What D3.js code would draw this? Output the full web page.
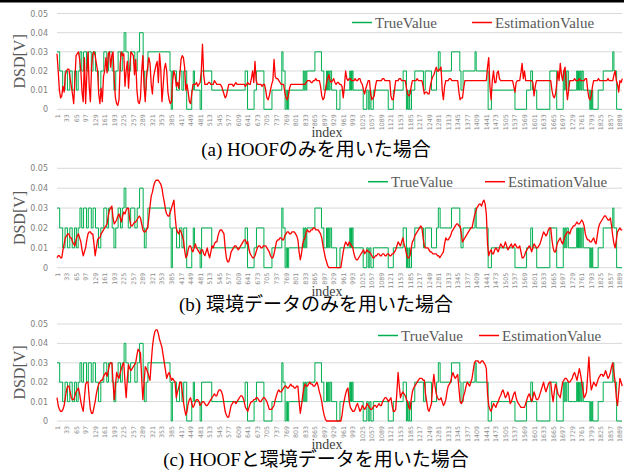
<!DOCTYPE html>
<html>
<head>
<meta charset="utf-8">
<script src="https://cdnjs.cloudflare.com/ajax/libs/d3/7.8.5/d3.min.js"></script>
<style>
  body { margin: 0; background: #fff; }
</style>
</head>
<body>
<svg id="chart" width="624" height="472"></svg>
<script>
"use strict";

/*
 * Data (DSD values in mV, i.e. 0.001 V)
 */
// true value, as runs: [first index, value]
var trueRuns = [
  [1,30],[10,20],[20,10],[28,20],[36,10],[44,20],[52,10],[60,20],[66,10],[72,20],
  [78,30],[84,20],[90,30],[100,20],[106,30],[116,20],[122,30],[130,20],[140,10],[148,20],
  [158,30],[168,20],[174,30],[186,20],[192,10],[198,20],[206,30],[214,20],[220,30],[226,40],
  [232,30],[240,20],[248,30],[262,20],[270,30],[278,40],[290,20],[294,10],[300,20],[306,30],
  [380,20],[384,0],[388,20],[402,10],[412,20],[420,10],[426,20],[436,0],[453,10],[458,20],
  [462,10],[481,0],[486,20],[520,10],[632,20],[640,0],[662,10],[670,20],[695,0],[722,10],
  [755,30],[759,20],[766,0],[770,10],[774,0],[778,10],[827,20],[830,10],[833,20],[836,10],
  [839,20],[866,30],[888,20],[896,10],[905,20],[908,10],[911,20],[914,10],[917,20],[922,10],
  [939,0],[950,10],[983,20],[985,10],[987,20],[989,10],[991,20],[994,10],[1028,0],[1040,10],
  [1045,0],[1050,10],[1054,0],[1062,10],[1112,0],[1129,10],[1162,20],[1173,0],[1176,10],[1178,0],
  [1182,10],[1184,0],[1190,10],[1201,20],[1230,10],[1236,20],[1257,10],[1274,20],[1280,30],[1286,20],
  [1324,30],[1352,20],[1356,10],[1363,20],[1403,30],[1407,20],[1447,0],[1458,10],[1537,0],[1576,10],
  [1590,20],[1596,10],[1610,0],[1654,20],[1677,0],[1699,20],[1702,10],[1705,20],[1708,10],[1711,20],
  [1716,10],[1744,20],[1747,10],[1750,20],[1753,10],[1756,20],[1759,10],[1762,20],[1766,10],[1788,0],
  [1791,10],[1793,0],[1796,10],[1798,0],[1816,10],[1833,20],[1865,30],[1869,20],[1878,0]
];
var lastIndex = 1896;

// estimation values, read every 4th index (1, 5, 9, ...), one row = 80 indices
var estStep = 4;
var estHOOF = [
  29,20,10,6,7,12,9,18,20,21,21,16,12,8,3,15,28,29,30,26,
  20,9,4,27,3,18,30,12,4,22,29,30,28,24,20,8,3,11,4,17,
  20,27,19,29,30,22,28,30,15,6,3,2,5,24,30,28,29,12,20,25,
  11,22,30,29,28,18,26,10,4,3,6,20,28,12,4,16,22,27,24,13,
  8,17,20,23,25,14,29,21,4,12,21,24,20,9,5,3,4,15,20,18,
  12,14,11,18,26,28,27,22,10,13,9,4,3,8,13,13,13,14,12,13,
  14,20,34,18,13,13,13,14,14,13,13,13,15,14,13,13,13,13,12,10,
  8,6,7,10,13,13,13,13,12,13,14,13,13,13,13,13,13,13,12,13,
  14,13,13,16,20,14,25,15,13,13,13,13,12,13,13,10,6,5,7,10,
  13,15,26,17,16,16,15,14,13,13,13,9,6,5,7,11,13,13,13,13,
  13,13,13,13,13,13,13,13,13,14,15,15,15,14,14,15,15,16,15,15,
  15,12,7,5,6,10,14,16,18,15,14,15,16,14,13,14,14,13,13,12,
  6,12,20,16,15,16,16,15,15,15,16,15,15,16,16,14,13,10,8,11,
  13,15,15,8,5,6,7,12,15,15,15,15,15,16,16,15,15,15,15,15,
  7,5,5,10,15,15,15,16,16,15,15,15,15,11,8,7,8,12,15,15,
  15,15,16,15,15,15,15,12,8,9,9,8,8,12,15,17,18,20,22,20,
  20,21,22,10,5,12,15,15,15,16,16,15,15,15,15,15,15,9,5,6,
  6,11,15,15,15,15,15,15,15,15,15,15,15,15,15,15,15,15,15,15,
  15,22,27,12,5,15,20,14,14,19,20,16,15,15,15,15,15,15,15,15,
  15,15,15,12,9,14,15,15,15,19,24,16,20,15,15,15,15,15,15,14,
  7,12,15,15,15,15,15,15,15,15,15,15,15,15,15,10,7,6,8,13,
  20,15,24,18,15,20,22,12,5,10,15,15,15,15,16,15,15,15,16,15,
  15,15,15,16,16,10,6,5,7,12,15,15,15,15,16,15,15,15,15,15,
  15,15,16,15,15,15,15,18,20,15,13,9,15,14,16
];
var estEnv = [
  5,6,6,5,5,9,12,15,16,17,17,15,15,13,12,11,14,16,17,15,
  13,9,6,8,10,14,17,18,18,17,17,12,6,10,14,15,15,17,18,19,
  20,21,22,26,29,30,31,25,22,23,24,26,27,25,23,26,28,27,29,30,
  30,24,21,21,22,23,23,24,25,26,25,22,19,18,18,19,20,25,31,36,
  38,41,43,44,44,44,43,42,40,36,33,29,27,26,26,28,30,32,34,26,
  20,18,17,19,18,16,14,9,5,6,9,11,11,9,8,10,12,10,9,8,
  7,9,9,7,6,8,10,7,5,8,11,10,12,13,13,16,18,19,19,18,
  17,10,5,3,3,5,8,9,10,11,11,10,9,10,11,12,13,14,14,12,
  13,9,7,6,5,5,6,8,10,11,11,10,10,11,11,11,10,9,8,6,
  5,5,7,10,13,14,14,15,15,14,14,16,17,18,18,17,17,18,18,18,
  17,16,14,8,4,7,12,14,15,18,19,18,18,19,19,20,20,19,19,19,
  18,17,15,11,8,5,3,1,0,0,0,0,0,0,0,0,0,0,0,4,
  8,11,13,12,11,13,12,11,10,7,5,4,4,5,6,7,8,9,7,8,
  9,8,8,7,6,5,5,6,6,7,7,6,6,7,7,6,6,7,7,6,
  6,7,7,8,9,11,13,12,11,13,15,12,10,7,5,5,6,10,13,14,
  16,17,18,19,20,21,20,15,11,10,10,10,9,8,8,7,7,7,7,6,
  6,5,6,7,8,12,15,14,14,15,16,18,19,20,21,22,22,21,21,17,
  13,14,15,16,17,18,19,20,20,23,26,28,30,31,32,32,31,33,34,32,
  27,12,6,8,9,7,7,9,10,9,8,10,12,11,10,11,13,11,9,10,
  11,12,10,11,12,11,10,10,11,8,5,5,6,8,9,10,11,10,8,10,
  12,11,10,10,11,12,14,16,18,17,16,17,19,20,20,14,10,8,8,11,
  13,14,15,13,12,14,16,17,18,18,17,19,20,21,21,22,23,22,22,23,
  24,23,21,17,15,14,14,13,13,14,15,13,12,16,20,22,23,24,25,26,
  26,25,24,24,25,21,16,12,10,14,18,19,20,19,19
];
var estBoth = [
  12,8,6,5,5,6,8,12,16,18,18,15,12,11,11,13,15,16,17,14,
  10,7,5,12,19,20,20,12,6,4,4,7,10,14,17,19,20,21,21,23,
  24,25,23,26,29,30,30,20,11,18,25,23,22,25,27,29,30,20,12,22,
  29,27,26,27,28,29,30,34,37,36,35,22,11,20,28,27,25,23,21,30,
  38,43,46,47,47,45,42,40,38,34,30,26,22,24,25,23,21,22,21,20,
  12,15,17,20,20,15,10,6,3,5,9,11,12,9,7,8,10,11,11,10,
  8,9,10,10,9,8,8,9,10,11,12,13,14,13,13,15,16,16,15,13,
  9,5,3,2,2,5,8,9,10,10,9,10,11,12,13,13,12,10,7,6,
  5,7,9,10,10,11,11,12,12,11,10,10,11,12,12,11,10,8,6,6,
  6,7,8,11,13,15,16,15,15,16,17,18,18,17,17,18,19,18,18,17,
  17,18,18,10,4,8,13,17,19,18,18,19,20,19,19,18,18,19,20,18,
  15,13,10,6,3,1,0,0,0,0,0,0,0,0,0,0,0,0,0,3,
  8,11,14,16,17,10,7,6,5,5,6,8,9,7,5,6,8,7,6,7,
  9,8,7,6,6,7,8,8,7,8,9,8,8,10,11,12,12,11,10,11,
  12,8,5,5,6,15,25,18,12,14,15,14,13,11,10,7,6,11,15,17,
  18,19,20,21,22,22,22,21,21,14,10,6,5,7,9,18,24,18,14,12,
  11,11,12,10,8,9,11,15,18,19,20,23,25,23,22,23,24,17,10,9,
  10,13,15,18,20,19,18,20,22,26,30,31,31,31,30,30,31,31,30,29,
  27,14,8,6,5,7,9,8,7,9,10,12,13,15,16,14,12,13,15,13,
  9,10,12,14,15,12,10,9,8,7,7,7,7,9,11,13,14,12,10,12,
  15,13,11,11,12,14,16,18,20,17,15,17,19,20,20,14,10,15,19,17,
  14,13,12,16,20,21,22,22,21,20,20,21,22,24,25,23,21,24,27,24,
  20,16,12,13,15,24,33,22,16,18,20,19,18,20,22,23,24,24,23,24,
  26,24,22,23,25,28,30,25,20,12,8,15,22,20,18
];

var xTicks = [1,33,65,97,129,161,193,225,257,289,321,353,385,417,449,481,513,545,577,609,
  641,673,705,737,769,801,833,865,897,929,961,993,1025,1057,1089,1121,1153,1185,1217,1249,
  1281,1313,1345,1377,1409,1441,1473,1505,1537,1569,1601,1633,1665,1697,1729,1761,1793,1825,1857,1889];
var yTicksMV = [0, 10, 20, 30, 40, 50];
var yTickLabels = ["0", "0.01", "0.02", "0.03", "0.04", "0.05"];
var seriesNames = ["TrueValue", "EstimationValue"];
var captions = ["(a) HOOFのみを用いた場合", "(b) 環境データのみを用いた場合", "(c) HOOFと環境データを用いた場合"];

/*
 * Layout
 */
var green = "#00b050", red = "#ff0000", grey = "#595959";
var left = 57, right = 622;
var panels = [
  { top: 13.5, bottom: 109.3, est: estHOOF, legendY: 22.5, legendX: [352, 472] },
  { top: 168.3, bottom: 267.7, est: estEnv, legendY: 181.7, legendX: [368, 485] },
  { top: 324, bottom: 421, est: estBoth, legendY: 335.5, legendX: [378, 479] }
];
var captionY = [156, 311, 466];

var svg = d3.select("#chart");

svg.append("rect").attr("x", 0).attr("y", 0).attr("width", 624).attr("height", 2.5).attr("fill", "#000");

var x = d3.scaleLinear().domain([1, lastIndex]).range([left, right]);

var truePoints = trueRuns.concat([[lastIndex, trueRuns[trueRuns.length - 1][1]]]);

panels.forEach(function (p, k) {
  var y = d3.scaleLinear().domain([0, 50]).range([p.bottom, p.top]);
  var g = svg.append("g");

  // gridlines
  g.selectAll("line.grid")
    .data(yTicksMV)
    .join("line")
    .attr("x1", left).attr("x2", right)
    .attr("y1", function (d) { return y(d); })
    .attr("y2", function (d) { return y(d); })
    .attr("stroke", "#d9d9d9")
    .attr("stroke-width", 1);

  // y axis
  var yAxis = d3.axisLeft(y)
    .tickValues(yTicksMV)
    .tickFormat(function (d, i) { return yTickLabels[i]; })
    .tickSize(0)
    .tickPadding(9);
  var ya = g.append("g").attr("transform", "translate(" + left + ",0)").call(yAxis);
  ya.select(".domain").remove();
  ya.selectAll("text")
    .attr("fill", "#7f7f7f")
    .style("font-family", "DejaVu Sans")
    .style("font-size", "8px");

  // x axis (rotated labels)
  var xAxis = d3.axisBottom(x).tickValues(xTicks).tickFormat(d3.format("d")).tickSize(0);
  var xa = g.append("g").attr("transform", "translate(0," + p.bottom + ")").call(xAxis);
  xa.select(".domain").remove();
  xa.selectAll("text")
    .attr("transform", "rotate(-90)")
    .attr("x", -5)
    .attr("y", 0)
    .attr("dy", "0.32em")
    .attr("text-anchor", "end")
    .attr("fill", "#8c8c8c")
    .style("font-family", "DejaVu Sans")
    .style("font-size", "6.3px");

  // true value
  var stepLine = d3.line()
    .x(function (d) { return x(d[0]); })
    .y(function (d) { return y(d[1]); })
    .curve(d3.curveStepAfter);
  g.append("path")
    .datum(truePoints)
    .attr("d", stepLine)
    .attr("fill", "none")
    .attr("stroke", green)
    .attr("stroke-width", 1);

  // estimation value
  var estLine = d3.line()
    .x(function (d, i) { return x(1 + i * estStep); })
    .y(function (d) { return y(d); });
  g.append("path")
    .datum(p.est)
    .attr("d", estLine)
    .attr("fill", "none")
    .attr("stroke", red)
    .attr("stroke-width", 1.3)
    .attr("stroke-linejoin", "round");

  // legend
  [green, red].forEach(function (c, j) {
    var lx = p.legendX[j];
    g.append("line")
      .attr("x1", lx).attr("x2", lx + 20)
      .attr("y1", p.legendY).attr("y2", p.legendY)
      .attr("stroke", c).attr("stroke-width", 1.5);
    g.append("text")
      .attr("x", lx + 23).attr("y", p.legendY + 5)
      .attr("fill", grey)
      .style("font-family", "Liberation Serif")
      .style("font-size", "15px")
      .text(seriesNames[j]);
  });

  // axis titles
  g.append("text")
    .attr("transform", "translate(24.5," + ((p.top + p.bottom) / 2) + ") rotate(-90)")
    .attr("text-anchor", "middle")
    .attr("fill", grey)
    .style("font-family", "Liberation Serif")
    .style("font-size", "16px")
    .text("DSD[V]");
  g.append("text")
    .attr("x", 327).attr("y", p.bottom + 28)
    .attr("text-anchor", "middle")
    .attr("fill", "#404040")
    .style("font-family", "Liberation Serif")
    .style("font-size", "14px")
    .text("index");

  // caption
  svg.append("text")
    .attr("x", 316).attr("y", captionY[k])
    .attr("text-anchor", "middle")
    .attr("fill", "#000")
    .style("font-family", "'Liberation Serif', 'Noto Sans CJK JP'")
    .style("font-size", "19px")
    .text(captions[k]);
});
</script>
</body>
</html>
